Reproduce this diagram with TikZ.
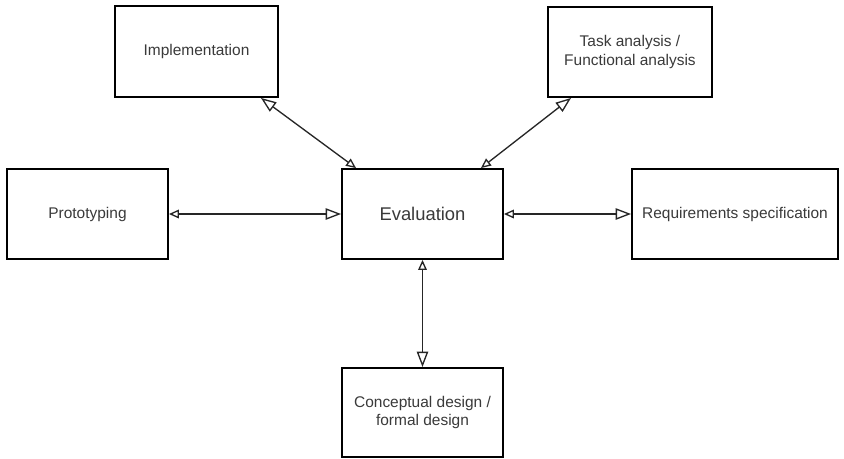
\documentclass[tikz,border=0pt]{standalone}
\usepackage{fontspec}
\setmainfont{Liberation Sans}
\usetikzlibrary{arrows.meta,calc}
\definecolor{labelgray}{HTML}{3A3A3A}
\tikzset{
  box/.style={draw=black, line width=1.4pt, fill=white, inner sep=0pt,
    align=center, text=labelgray, font=\fontsize{11.6}{14}\selectfont},
  link/.style={line width=1pt, draw=black!85,
    {Triangle[open, length=7.5pt, width=6.5pt]}-{Triangle[open, length=11.5pt, width=8.5pt]}},
}
\begin{document}
\begin{tikzpicture}[x=0.75pt, y=-0.75pt]
  \useasboundingbox (0,0) rectangle (844,458);
  % outer boxes
  \node[box, minimum width=163*0.75pt, minimum height=91*0.75pt] (impl) at (196.5,51.5) {Implementation};
  \node[box, minimum width=164*0.75pt, minimum height=90*0.75pt] (task) at (630,52) {Task analysis /\\Functional analysis};
  \node[box, minimum width=161*0.75pt, minimum height=90*0.75pt] (proto) at (87.5,214) {Prototyping};
  \node[box, minimum width=161*0.75pt, minimum height=90*0.75pt, font=\fontsize{13.8}{16}\selectfont] (eval) at (422.5,214) {Evaluation};
  \node[box, minimum width=206*0.75pt, minimum height=90*0.75pt] (req) at (735,214) {Requirements specification};
  \node[box, minimum width=161*0.75pt, minimum height=89*0.75pt] (conc) at (422.5,412.5) {Conceptual design /\\formal design};
  % end points of the diagonal links
  \coordinate (implfoot) at ($(impl.south east)+(-18,0)$);
  \coordinate (taskfoot) at ($(task.south west)+(24,0)$);
  \coordinate (evaltopl) at ($(eval.north west)+(15,0)$);
  \coordinate (evaltopr) at ($(eval.north east)+(-23,0)$);
  % links
  \draw[link] (proto.east) -- (eval.west);
  \draw[link] (eval.east) -- (req.west);
  \draw[link] (eval.south) -- (conc.north);
  \draw[link] (evaltopl) -- (implfoot);
  \draw[link] (evaltopr) -- (taskfoot);
\end{tikzpicture}
\end{document}
